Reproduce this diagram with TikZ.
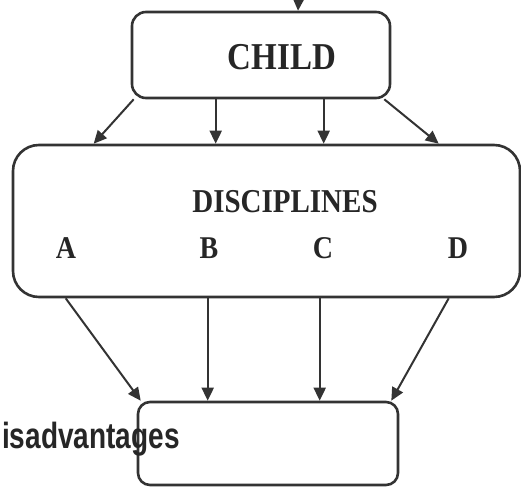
\documentclass[tikz,border=0pt]{standalone}
\usepackage{fontspec}
\setmainfont{Liberation Serif}
\setsansfont{Liberation Sans}
\usetikzlibrary{arrows.meta, calc}
\definecolor{tinta}{gray}{0.2}
\newcommand\alto[2]{\scalebox{1}[#1]{#2}}

\begin{document}
\begin{tikzpicture}[x=1pt, y=-1pt,
  caja/.style={draw=tinta, line width=2.6pt, rounded corners=#1, inner sep=0pt},
  caja/.default=14pt,
  titulo/.style={font=\bfseries\fontsize{#1}{#1}\selectfont, text=black!85, inner sep=0pt},
  flecha/.style={draw=tinta, line width=2pt, -{Triangle[length=13pt, width=12pt]}},
  nota/.style={font=\sffamily\bfseries\fontsize{28}{28}\selectfont, text=black!85, inner sep=0pt}
]
\useasboundingbox (0,0) rectangle (521,487);
\clip (0,0) rectangle (521,487);

% Cajas
\node[caja=14pt, minimum width=258pt, minimum height=86pt] (child) at (261,55) {};
\node[titulo=33] (childtxt) at (282,57) {\alto{1.15}{CHILD}};

\node[caja=26pt, minimum width=507pt, minimum height=152pt] (disc) at (266.5,221) {};
\node[titulo=29] (disctxt) at (285,202) {\alto{1.15}{DISCIPLINES}};
\foreach \letra/\x in {A/66, B/209, C/323, D/458}
  \node[titulo=28] (\letra) at (\x,248) {\alto{1.13}{\letra}};

\node[caja=12pt, minimum width=260pt, minimum height=83pt] (res) at (268,443.5) {};
\node[nota, anchor=base west] (desv) at (2,448) {\alto{1.3}{isadvantages}};

% Entrada desde arriba
\coordinate (entrada) at (300,-30);
\draw[flecha] (entrada) -- ([xshift=37pt]child.north);

% Del nino a las disciplinas
\draw[flecha] ([xshift=3pt]child.south west) -- ([xshift=82pt]disc.north west);
\draw[flecha] ([xshift=85pt]child.south west) -- ([xshift=85pt]child.south west |- disc.north);
\draw[flecha] ([xshift=193pt]child.south west) -- ([xshift=193pt]child.south west |- disc.north);
\draw[flecha] ([xshift=-7pt]child.south east) -- ([xshift=427pt]disc.north west);

% De las disciplinas a la caja inferior
\draw[flecha] ([xshift=54pt]disc.south west) -- ([xshift=4pt]res.north west);
\draw[flecha] ([xshift=71pt]res.north west |- disc.south) -- ([xshift=71pt]res.north west);
\draw[flecha] ([xshift=183pt]res.north west |- disc.south) -- ([xshift=183pt]res.north west);
\draw[flecha] ([xshift=437pt]disc.south west) -- ([xshift=-8pt]res.north east);

\end{tikzpicture}
\end{document}
